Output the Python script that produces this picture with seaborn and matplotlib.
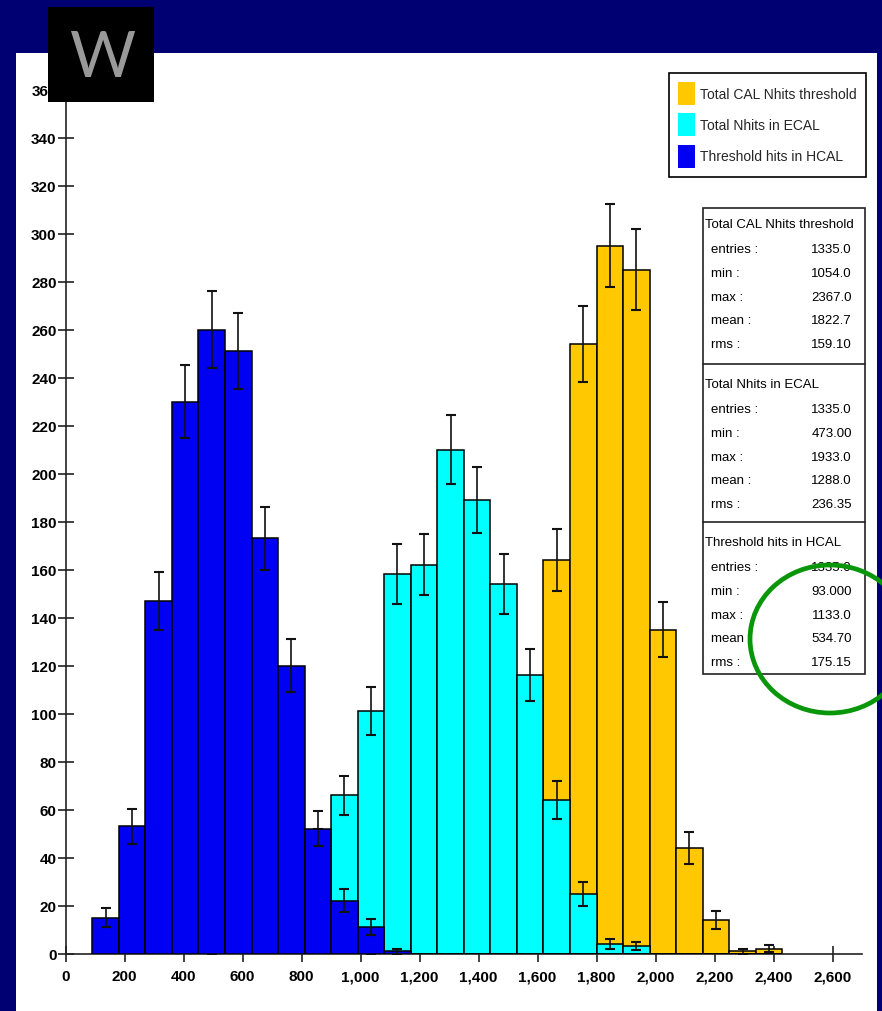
import numpy as np
import pandas as pd
import matplotlib
matplotlib.use("Agg")
import matplotlib.pyplot as plt
from matplotlib.patches import Rectangle, Ellipse, Patch
from matplotlib.lines import Line2D
import seaborn as sns

# ---- histogram data (counts per 90-hit bin, bins start at 90) ----
bin_edges = list(range(90, 2431, 90))
total_cal_counts = [0, 0, 0, 0, 0, 0, 0, 0, 0, 0, 1, 3, 6, 12, 22, 38, 59,
                    164, 254, 295, 285, 135, 44, 14, 1, 2]
ecal_counts = [0, 0, 0, 0, 1, 3, 10, 24, 45, 66, 101, 158, 162, 210, 189, 154,
               116, 64, 25, 4, 3, 0, 0, 0, 0, 0]
hcal_counts = [15, 53, 147, 230, 260, 251, 173, 120, 52, 22, 11, 1, 0, 0, 0, 0,
               0, 0, 0, 0, 0, 0, 0, 0, 0, 0]

series_labels = ["Total CAL Nhits threshold", "Total Nhits in ECAL",
                 "Threshold hits in HCAL"]
series_colors = ["#ffc800", "#00ffff", "#0000f2"]

stat_names = ["entries :", "min :", "max :", "mean :", "rms :"]
stat_values = [
    ["1335.0", "1054.0", "2367.0", "1822.7", "159.10"],
    ["1335.0", "473.00", "1933.0", "1288.0", "236.35"],
    ["1335.0", "93.000", "1133.0", "534.70", "175.15"],
]

x_ticks = list(range(0, 2601, 200))
y_ticks = list(range(0, 361, 20))

# ---- styling ----
sns.set_theme(style="ticks")
plt.rcParams["font.family"] = ["Liberation Sans", "DejaVu Sans"]

W, H = 882, 1012
fig = plt.figure(figsize=(W / 100, H / 100), dpi=100, facecolor="#000072")


def fx(x):
    return x / W


def fy(y):
    return 1 - y / H


# white slide panel
fig.add_artist(Rectangle((fx(16), 0), fx(877) - fx(16), fy(54), transform=fig.transFigure,
                         facecolor="white", edgecolor="none", zorder=-5))

ax = fig.add_axes([fx(65.7), fy(954.5), fx(862) - fx(65.7), fy(90.5) - fy(954.5)])
ax.patch.set_visible(False)

edges = np.asarray(bin_edges, dtype=float)
centers = (edges[:-1] + edges[1:]) / 2
series = [total_cal_counts, ecal_counts, hcal_counts]
for i, (counts, color) in enumerate(zip(series, series_colors)):
    counts = np.asarray(counts, dtype=float)
    df = pd.DataFrame({"nhits": centers, "n": counts})
    z = 2 + 2 * i
    sns.histplot(data=df, x="nhits", weights="n", bins=bin_edges, stat="count",
                 element="bars", fill=True, color=color, alpha=1,
                 edgecolor="black", linewidth=1.1, ax=ax, zorder=z)
    m = counts > 0
    ax.errorbar(centers[m], counts[m], yerr=np.sqrt(counts[m]), fmt="none",
                ecolor="#111111", elinewidth=1.2, capsize=3.6, capthick=1.5,
                zorder=z + 1)

ax.set_xlim(0, 2700)
ax.set_ylim(0, 360)
ax.set_xticks(x_ticks)
ax.set_xticklabels([f"{v:,}" for v in x_ticks])
ax.set_yticks(y_ticks)
ax.set_yticklabels([str(v) for v in y_ticks])
ax.set_xlabel("")
ax.set_ylabel("")
for s in ["top", "right"]:
    ax.spines[s].set_visible(False)
for s in ["left", "bottom"]:
    ax.spines[s].set_color("#222222")
    ax.spines[s].set_linewidth(1.2)
ax.tick_params(axis="both", direction="inout", length=11, width=1.2,
               color="#222222", labelsize=11, labelcolor="black")
ax.tick_params(axis="y", pad=1)
ax.tick_params(axis="x", pad=6)
for lab in ax.get_xticklabels() + ax.get_yticklabels():
    lab.set_fontweight("bold")

# ---- legend ----
handles = [Patch(facecolor=c, edgecolor="none") for c in series_colors]
leg = fig.legend(handles=handles, labels=series_labels, loc="upper right",
                 bbox_to_anchor=(fx(866), fy(74)), frameon=True, fancybox=False,
                 edgecolor="black", framealpha=1, prop={"size": 10},
                 handlelength=1.22, handleheight=2.17, labelspacing=0.58,
                 handletextpad=0.36, borderpad=0.68, borderaxespad=0)
leg.get_frame().set_linewidth(1.2)

# ---- statistics box ----
box_left, box_right = 703, 865
fig.add_artist(Rectangle((fx(box_left), fy(675)), fx(box_right) - fx(box_left), fy(209) - fy(675),
                         transform=fig.transFigure, facecolor="white",
                         edgecolor="#222222", linewidth=1.2, zorder=6))
for yline in (365, 523):
    fig.add_artist(Line2D([fx(box_left), fx(box_right)], [fy(yline), fy(yline)],
                          transform=fig.transFigure, color="#222222", linewidth=1.2, zorder=7))

title_rows = [225, 385, 543]
for title, y0, vals in zip(series_labels, title_rows, stat_values):
    fig.text(fx(705), fy(y0), title, ha="left", va="center", fontsize=9.5,
             color="black", zorder=8)
    for k, (name, val) in enumerate(zip(stat_names, vals)):
        yy = y0 + 25 + 23.8 * k
        fig.text(fx(711), fy(yy), name, ha="left", va="center", fontsize=9.5,
                 color="black", zorder=8)
        fig.text(fx(852), fy(yy), val, ha="right", va="center", fontsize=9.5,
                 color="black", zorder=8)

# highlight ring around the HCAL mean / rms
fig.add_artist(Ellipse((fx(830), fy(640)), 160 / W, 148 / H, transform=fig.transFigure,
                       facecolor="none", edgecolor="#0a960a", linewidth=3.4, zorder=9))

# logo tile
fig.add_artist(Rectangle((fx(48), fy(103)), fx(154) - fx(48), fy(8) - fy(103),
                         transform=fig.transFigure, facecolor="black",
                         edgecolor="none", zorder=10))
fig.text(fx(102), fy(59), "W", ha="center", va="center", fontsize=46,
         color="#999999", family=["Lato", "DejaVu Sans"], fontweight="normal",
         zorder=11)

fig.savefig("out.png", dpi=100, facecolor=fig.get_facecolor())
